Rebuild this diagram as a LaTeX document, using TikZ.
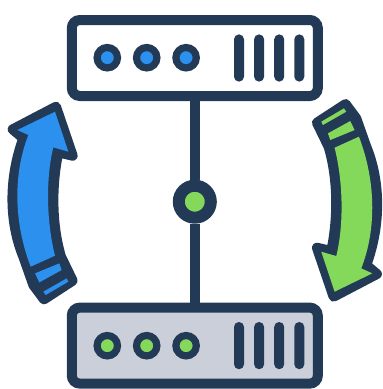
\documentclass[tikz,border=0pt]{standalone}
\usetikzlibrary{positioning}

\definecolor{navy}{HTML}{233A57}
\definecolor{skyblue}{HTML}{2B90EE}
\definecolor{leaf}{HTML}{85D95A}
\definecolor{steel}{HTML}{CBCFD9}

\tikzset{
  pics/turnarrow/.style={code={
    \begin{scope}[x=0.33333pt, y=-0.33333pt, shift={(-584.4,-335)}]
      \draw[navy, fill=navy, line width=10pt, line join=round]
        (38,118) -- (168,50) -- (218,197) -- (175,187)
        .. controls (155,280) and (153,400) .. (183,500)
        -- (218,572) -- (132,628) -- (100,585) -- (70,500)
        .. controls (27,395) and (26,265) .. (70,145) -- cycle;
      \fill[#1] (52,120) -- (165,65) -- (205,185) -- (160,172)
        .. controls (138,260) and (138,390) .. (165,497)
        -- (92,530)
        .. controls (42,400) and (38,255) .. (85,135) -- cycle;
      \fill[#1] (105,550) -- (178,520) -- (185,540) -- (118,577) -- cycle;
      \fill[#1] (130,605) -- (200,565) -- (205,575) -- (137,615) -- cycle;
    \end{scope}
  }}
}

\begin{document}
\begin{tikzpicture}[
  x=1pt, y=-1pt,
  server/.style={draw=navy, line width=10pt, rounded corners=8pt, minimum width=246pt, minimum height=76pt},
  led/.style={circle, draw=navy, line width=7.2pt, minimum size=20.4pt, inner sep=0pt},
  vent/.style={fill=navy, rounded corners=4.9pt, minimum width=10pt, minimum height=47.2pt, inner sep=0pt},
  wire/.style={draw=navy, line width=10pt}
]
\useasboundingbox (0,0) rectangle (383,389);

\node[server, fill=white] (top) at (194.8,58) {};
\node[server, fill=steel, below=201.6pt of top] (bottom) {};
\node[circle, draw=navy, line width=12pt, fill=leaf, minimum size=32pt, inner sep=0pt] (hub) at (194.8,201.7) {};

\draw[wire] (top) -- (hub);
\draw[wire] (hub) -- (bottom);

% lights
\node[led, fill=skyblue] (topa) at (107.3,57.7) {};
\node[led, fill=skyblue, right=39.4pt of topa.center, anchor=center] (topb) {};
\node[led, fill=skyblue, right=78.8pt of topa.center, anchor=center] (topc) {};
\node[led, fill=leaf] (bota) at (107.3,345.7) {};
\node[led, fill=leaf, right=39.4pt of bota.center, anchor=center] (botb) {};
\node[led, fill=leaf, right=78.8pt of bota.center, anchor=center] (botc) {};

% vents
\node[vent] (topv1) at (239,58) {};
\node[vent, right=9.7pt of topv1] (topv2) {};
\node[vent, right=9.7pt of topv2] (topv3) {};
\node[vent, right=9.7pt of topv3] (topv4) {};
\node[vent] (botv1) at (239,345.6) {};
\node[vent, right=9.7pt of botv1] (botv2) {};
\node[vent, right=9.7pt of botv2] (botv3) {};
\node[vent, right=9.7pt of botv3] (botv4) {};

% arrows
\pic at (hub) {turnarrow=skyblue};
\pic[rotate=180] at (hub) {turnarrow=leaf};

\end{tikzpicture}
\end{document}
